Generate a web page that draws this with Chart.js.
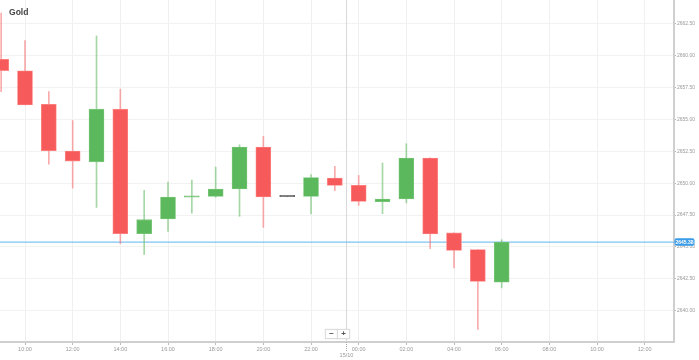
<!DOCTYPE html>
<html>
<head>
<meta charset="utf-8">
<script src="https://cdn.jsdelivr.net/npm/chart.js@4.4.1/dist/chart.umd.min.js"></script>
<style>
  html,body{margin:0;padding:0;background:#fff;}
  #wrap{position:relative;width:699px;height:360px;overflow:hidden;}
  #title{position:absolute;left:9px;top:6px;font-family:"Liberation Sans Narrow","Liberation Sans",Arial,sans-serif;font-weight:bold;font-size:9.5px;color:#444;transform:scaleX(0.9);transform-origin:left top;}
  .zb{position:absolute;top:329px;width:11px;height:8px;background:#fff;border:1px solid #ddd;box-shadow:0 0 1px rgba(0,0,0,0.15);font-family:"Liberation Sans",Arial,sans-serif;font-size:8px;line-height:8px;text-align:center;color:#555;font-weight:bold;}
</style>
</head>
<body>
<div id="wrap">
  <canvas id="c" width="699" height="360"></canvas>
  <div id="title">Gold</div>
  <div class="zb" style="left:325px;">−</div>
  <div class="zb" style="left:337px;">+</div>
</div>
<script>
// Hours counted from 14/10 00:00 (24 = 15/10 00:00)
const hours = [9,10,11,12,13,14,15,16,17,18,19,20,21,22,23,24,25,26,27,28,29,30];
const openV  = [2659.73,2658.82,2656.20,2652.52,2651.68,2655.81,2646.04,2647.19,2648.90,2648.97,2649.55,2652.84,2648.94,2648.97,2650.41,2649.83,2648.55,2648.76,2651.97,2646.10,2644.79,2642.23];
const highV  = [2663.36,2661.19,2657.19,2654.92,2661.56,2657.38,2649.44,2650.09,2650.25,2651.27,2653.02,2653.67,2648.94,2650.67,2651.32,2650.61,2651.58,2653.10,2652.00,2646.10,2644.79,2645.57];
const lowV   = [2657.19,2656.15,2651.50,2649.62,2648.10,2645.26,2644.40,2646.22,2647.66,2648.89,2647.40,2646.54,2648.94,2647.59,2649.41,2648.26,2647.61,2648.45,2644.87,2643.35,2638.52,2641.79];
const closeV = [2658.84,2656.15,2652.55,2651.74,2655.81,2646.04,2647.14,2648.92,2649.00,2649.55,2652.84,2648.92,2648.94,2650.45,2649.83,2648.57,2648.76,2651.97,2646.02,2644.73,2642.30,2645.38];
const xTickHours = [10,12,14,16,18,20,22,24,26,28,30,32,34,36];
const yTickValues = [2640.0,2642.5,2645.0,2647.5,2650.0,2652.5,2655.0,2657.5,2660.0,2662.5];
const lastPrice = 2645.38;
const daySplit = 23.47;
const dayLabel = "15/10";
const xMin = 8.951, xMax = 37.23;
const yMin = 2637.54, yMax = 2664.38;

const UP='#5cb85c', DOWN='#f65a5a', FLAT='#666666';
const UPW='rgba(92,184,92,0.55)', DOWNW='rgba(246,90,90,0.5)';
const dir = hours.map((h,i)=> closeV[i]>openV[i]?1:(closeV[i]<openV[i]?-1:0));

const fmtHour = v => { const h = ((v%24)+24)%24; return (h<10?'0':'')+h+':00'; };

const overlay = {
  id:'overlay',
  beforeDatasetsDraw(chart){
    const {ctx, chartArea:a, scales:{x}} = chart;
    const px = Math.round(x.getPixelForValue(daySplit))+0.5;
    ctx.save();
    ctx.strokeStyle='#d9d9d9'; ctx.lineWidth=1;
    ctx.beginPath(); ctx.moveTo(px,a.top); ctx.lineTo(px,a.bottom); ctx.stroke();
    ctx.restore();
  },
  afterDraw(chart){
    const {ctx, chartArea:a, scales:{x,y}} = chart;
    const px = Math.round(x.getPixelForValue(daySplit))+0.5;
    ctx.save();
    ctx.strokeStyle='#aaa'; ctx.lineWidth=1; ctx.setLineDash([1,1]);
    ctx.beginPath(); ctx.moveTo(px,a.bottom); ctx.lineTo(px,a.bottom+9); ctx.stroke();
    ctx.setLineDash([]);
    ctx.fillStyle='#999'; ctx.font='5.5px "Liberation Sans", Arial, sans-serif';
    ctx.textAlign='center'; ctx.textBaseline='middle';
    ctx.fillText(dayLabel, px, 355.5);
    // price label
    const py = y.getPixelForValue(lastPrice);
    const bx = a.right+0.5, bw=20, bh=7.5;
    ctx.fillStyle='#3a9ce8';
    ctx.beginPath();
    if (ctx.roundRect) ctx.roundRect(bx, py-bh/2, bw, bh, 2); else ctx.rect(bx, py-bh/2, bw, bh);
    ctx.fill();
    ctx.fillStyle='#fff'; ctx.font='bold 5px "Liberation Sans", Arial, sans-serif';
    ctx.fillText(lastPrice.toFixed(2), bx+bw/2, py+0.3);
    ctx.restore();
  }
};

new Chart(document.getElementById('c'), {
  type:'bar',
  data:{
    datasets:[
      {
        label:'body',
        data: hours.map((h,i)=>({x:h, y:[openV[i], closeV[i]]})),
        backgroundColor: dir.map(d=> d>0?UP:(d<0?DOWN:FLAT)),
        borderColor: dir.map(d=> d>0?'#7cc87c':(d<0?'#f88':FLAT)),
        borderWidth: 0.8,
        borderSkipped:false,
        barThickness:15,
        minBarLength:1.5,
        grouped:false
      },
      {
        label:'wick',
        data: hours.map((h,i)=>({x:h, y:[lowV[i], highV[i]]})),
        backgroundColor: dir.map(d=> d>0?UPW:(d<0?DOWNW:FLAT)),
        borderWidth:0,
        barThickness:1,
        grouped:false
      },
      {
        type:'line',
        label:'price',
        data:[{x:xMin,y:lastPrice},{x:xMax,y:lastPrice}],
        borderColor:'#5fb6f0',
        borderWidth:1,
        pointRadius:0
      }
    ]
  },
  options:{
    responsive:false,
    animation:false,
    layout:{padding:0},
    plugins:{legend:{display:false}, tooltip:{enabled:false}},
    scales:{
      x:{
        type:'linear', min:xMin, max:xMax, offset:false,
        afterBuildTicks: s => { s.ticks = xTickHours.map(v=>({value:v})); },
        afterFit: s => { s.height = 18; s.paddingLeft = 0; s.paddingRight = 0; },
        grid:{color:'#f0f0f0', tickColor:'#bbb', tickLength:3, lineWidth:1, offset:false},
        border:{color:'#cfcfcf', width:2},
        ticks:{color:'#999', padding:1, maxRotation:0, autoSkip:false,
          font:{size:5.5, family:'"Liberation Sans", Arial, sans-serif'},
          callback: v => fmtHour(v)}
      },
      y:{
        type:'linear', position:'right', min:yMin, max:yMax,
        afterBuildTicks: s => { s.ticks = yTickValues.map(v=>({value:v})); },
        afterFit: s => { s.width = 25; s.paddingTop = 0; s.paddingBottom = 0; },
        grid:{color:'#f2f2f2', tickColor:'#bbb', tickLength:2},
        border:{color:'#cfcfcf', width:2},
        ticks:{color:'#999', padding:1,
          font:{size:5, family:'"Liberation Sans", Arial, sans-serif'},
          callback: v => v.toFixed(2)}
      }
    }
  },
  plugins:[overlay]
});
</script>
</body>
</html>
